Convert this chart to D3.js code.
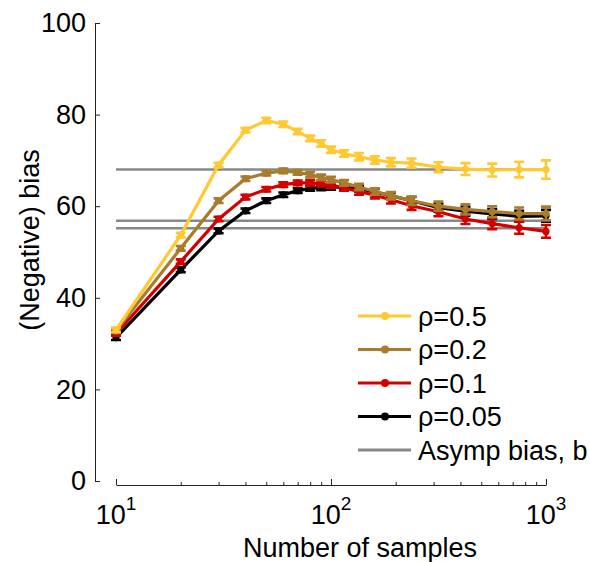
<!DOCTYPE html>
<meta charset="utf-8">
<script src="https://d3js.org/d3.v7.min.js"></script>
<style>
  body { margin: 0; background: #fff; }
  text { font-family: "Liberation Sans", Arial, sans-serif; }
</style>
<div id="chart"></div>
<script>

// number of samples (x)
const samples = [10, 20, 30, 40, 50, 60, 70, 80, 90, 100, 115, 135, 160, 190, 237, 316, 422, 562, 750, 1000];

// (negative) bias for each rho
const bias05  = [33.0, 53.7, 69.0, 76.6, 78.7, 77.9, 76.3, 74.8, 73.7, 72.3, 71.5, 70.8, 70.1, 69.6, 69.4, 68.5, 68.1, 67.9, 68.0, 68.0];
const bias02  = [32.8, 50.8, 61.2, 66.0, 67.2, 67.7, 67.4, 66.9, 66.3, 65.8, 65.1, 64.2, 63.2, 62.3, 61.2, 60.0, 59.3, 58.8, 58.4, 58.4];
const bias01  = [32.2, 47.9, 57.2, 62.0, 63.7, 64.7, 65.1, 65.1, 64.9, 64.6, 64.0, 63.2, 62.4, 61.4, 60.1, 58.8, 57.2, 56.2, 55.3, 54.5];
const bias005 = [31.3, 46.1, 54.6, 59.0, 61.2, 62.5, 63.4, 63.9, 64.1, 64.2, 64.1, 63.8, 63.1, 62.3, 61.2, 59.7, 58.9, 58.3, 57.8, 57.9];

// error bar half-widths
const err05  = [0.5, 0.5, 0.5, 0.5, 0.6, 0.6, 0.6, 0.6, 0.7, 0.7, 0.7, 0.8, 0.8, 0.9, 1.0, 1.1, 1.3, 1.4, 1.7, 2.0];
const err02  = [0.5, 0.5, 0.5, 0.5, 0.5, 0.5, 0.5, 0.6, 0.6, 0.6, 0.6, 0.7, 0.7, 0.8, 0.9, 1.0, 1.1, 1.2, 1.3, 1.5];
const err01  = [0.5, 0.5, 0.5, 0.5, 0.5, 0.5, 0.5, 0.6, 0.6, 0.6, 0.6, 0.7, 0.7, 0.8, 0.9, 1.0, 1.1, 1.2, 1.3, 1.4];
const err005 = [0.5, 0.5, 0.5, 0.5, 0.5, 0.5, 0.5, 0.5, 0.6, 0.6, 0.6, 0.6, 0.7, 0.7, 0.8, 0.9, 1.0, 1.1, 1.2, 1.3];

// asymptotic bias lines
const asympBias = [68.0, 56.8, 55.2];

const rhoLabels = ["ρ=0.5", "ρ=0.2", "ρ=0.1", "ρ=0.05"];
const rhoColors = ["#ffc933", "#a87c2c", "#d40000", "#000000"];
const yTicks = [0, 20, 40, 60, 80, 100];
const xMajor = [10, 100, 1000];
const xMinor = [20, 30, 40, 50, 60, 70, 80, 90, 200, 300, 400, 500, 600, 700, 800, 900];

const series = [
  {label: rhoLabels[0], color: rhoColors[0], y: bias05, e: err05},
  {label: rhoLabels[1], color: rhoColors[1], y: bias02, e: err02},
  {label: rhoLabels[2], color: rhoColors[2], y: bias01, e: err01},
  {label: rhoLabels[3], color: rhoColors[3], y: bias005, e: err005}
];

const W = 590, H = 562;
const fs = "27px";
const svg = d3.select("#chart").append("svg")
  .attr("width", W)
  .attr("height", H);

const x = d3.scaleLog().domain([10, 1000]).range([116, 546]);
const y = d3.scaleLinear().domain([0, 100]).range([481, 23]);

// y axis (ticks pointing inwards)
const yAxis = svg.append("g")
  .attr("transform", "translate(95,0)")
  .call(d3.axisLeft(y).tickValues(yTicks).tickSizeInner(-5).tickSizeOuter(0).tickPadding(9));
yAxis.selectAll("text").style("font-size", fs).attr("fill", "#000");
yAxis.selectAll("line, path").attr("stroke", "#222");

// x axis
const xAxisY = 485;
const xAxis = svg.append("g")
  .attr("transform", `translate(0,${xAxisY})`)
  .call(d3.axisBottom(x).tickValues(xMajor).tickSizeInner(-6).tickSizeOuter(0).tickFormat(""));
xAxis.selectAll("line, path").attr("stroke", "#222");
const xMinorAxis = svg.append("g")
  .attr("transform", `translate(0,${xAxisY})`)
  .call(d3.axisBottom(x).tickValues(xMinor).tickSizeInner(-3).tickSizeOuter(0).tickFormat(""));
xMinorAxis.select("path").remove();
xMinorAxis.selectAll("line").attr("stroke", "#222");

// x tick labels as 10^n
xMajor.forEach(function(v) {
  const t = svg.append("text")
    .attr("x", x(v))
    .attr("y", 524)
    .attr("text-anchor", "middle")
    .style("font-size", fs);
  t.append("tspan").text("10");
  t.append("tspan").attr("dy", -14).style("font-size", "19px").text(String(Math.round(Math.log10(v))));
});

// axis titles
svg.append("text")
  .attr("x", 360)
  .attr("y", 557)
  .attr("text-anchor", "middle")
  .style("font-size", fs)
  .text("Number of samples");

svg.append("text")
  .attr("transform", "rotate(-90)")
  .attr("x", -240)
  .attr("y", 39)
  .attr("text-anchor", "middle")
  .style("font-size", fs)
  .text("(Negative) bias");

// asymptotic bias lines
svg.selectAll(".asymp")
  .data(asympBias)
  .enter()
  .append("line")
    .attr("x1", x(10))
    .attr("x2", x(1000))
    .attr("y1", d => y(d))
    .attr("y2", d => y(d))
    .attr("stroke", "#888")
    .attr("stroke-width", 2.5);

// curves, drawn from rho=0.05 upwards so yellow is on top
const line = d3.line()
  .x(d => x(d[0]))
  .y(d => y(d[1]));

series.slice().reverse().forEach(function(s) {
  const pts = samples.map((n, i) => [n, s.y[i], s.e[i]]);
  const g = svg.append("g");
  g.append("path")
    .datum(pts)
    .attr("d", line)
    .attr("fill", "none")
    .attr("stroke", s.color)
    .attr("stroke-width", 3.2);
  // error bars
  g.selectAll(".eb")
    .data(pts)
    .enter()
    .append("path")
      .attr("d", d => {
        const cx = x(d[0]), y0 = y(d[1] - d[2]), y1 = y(d[1] + d[2]);
        return `M${cx},${y0}V${y1}M${cx - 5},${y0}H${cx + 5}M${cx - 5},${y1}H${cx + 5}`;
      })
      .attr("fill", "none")
      .attr("stroke", s.color)
      .attr("stroke-width", 2.6);
  g.selectAll(".dot")
    .data(pts)
    .enter()
    .append("circle")
      .attr("cx", d => x(d[0]))
      .attr("cy", d => y(d[1]))
      .attr("r", 3.6)
      .attr("fill", s.color);
});

// legend
const legendItems = series.map(s => ({label: s.label, color: s.color, dot: true}))
  .concat([{label: "Asymp bias, b", color: "#888", dot: false}]);
const legend = svg.append("g");
legendItems.forEach(function(d, i) {
  const ly = 316 + i * 33.5;
  legend.append("line")
    .attr("x1", 358).attr("x2", 411)
    .attr("y1", ly).attr("y2", ly)
    .attr("stroke", d.color)
    .attr("stroke-width", 3.2);
  if (d.dot) {
    legend.append("circle")
      .attr("cx", 385).attr("cy", ly).attr("r", 4)
      .attr("fill", d.color);
  }
  legend.append("text")
    .attr("x", 418)
    .attr("y", ly + 9.5)
    .style("font-size", fs)
    .text(d.label);
});

</script>
